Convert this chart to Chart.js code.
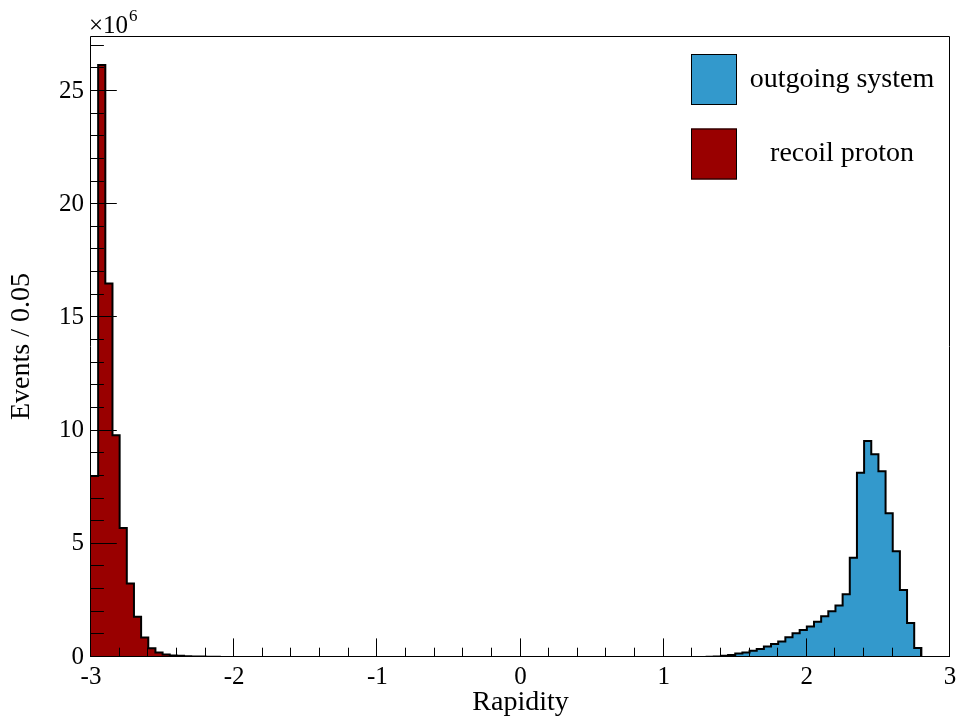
<!DOCTYPE html>
<html>
<head>
<meta charset="utf-8">
<script src="https://cdn.jsdelivr.net/npm/chart.js@4.4.1/dist/chart.umd.min.js"></script>
<style>
  html, body { margin: 0; padding: 0; background: #fff; }
</style>
</head>
<body>
<canvas id="graficoRapidez" width="960" height="718"></canvas>
<script>
// Histograma: 120 bins de 0.05 entre -3 y 3 (valores en unidades de 10^6)
const rapidityMin = -3;
const rapidityMax = 3;
const binWidth = 0.05;

const xTicks = [-3, -2, -1, 0, 1, 2, 3];
const yTicks = [0, 5, 10, 15, 20, 25];

const recoilProton = [
  8.0, 26.15, 16.5, 9.8, 5.7, 3.25, 1.78, 0.86, 0.39, 0.2, 0.11, 0.07, 0.05, 0.035, 0.025, 0.018, 0.012, 0.008, 0.005, 0.003,
  0.002, 0.001, 0, 0, 0, 0, 0, 0, 0, 0, 0, 0, 0, 0, 0, 0, 0, 0, 0, 0,
  0, 0, 0, 0, 0, 0, 0, 0, 0, 0, 0, 0, 0, 0, 0, 0, 0, 0, 0, 0,
  0, 0, 0, 0, 0, 0, 0, 0, 0, 0, 0, 0, 0, 0, 0, 0, 0, 0, 0, 0,
  0, 0, 0, 0, 0, 0, 0, 0, 0, 0, 0, 0, 0, 0, 0, 0, 0, 0, 0, 0,
  0, 0, 0, 0, 0, 0, 0, 0, 0, 0, 0, 0, 0, 0, 0, 0, 0, 0, 0, 0
];

const outgoingSystem = [
  0, 0, 0, 0, 0, 0, 0, 0, 0, 0, 0, 0, 0, 0, 0, 0, 0, 0, 0, 0,
  0, 0, 0, 0, 0, 0, 0, 0, 0, 0, 0, 0, 0, 0, 0, 0, 0, 0, 0, 0,
  0, 0, 0, 0, 0, 0, 0, 0, 0, 0, 0, 0, 0, 0, 0, 0, 0, 0, 0, 0,
  0, 0, 0, 0, 0, 0, 0, 0, 0, 0, 0, 0, 0, 0, 0, 0, 0, 0, 0, 0,
  0, 0, 0, 0, 0, 0.005, 0.01, 0.02, 0.05, 0.09, 0.15, 0.20, 0.28, 0.35, 0.46, 0.57, 0.69, 0.87, 1.05, 1.19,
  1.35, 1.56, 1.80, 2.02, 2.27, 2.77, 4.38, 8.14, 9.54, 8.96, 8.21, 6.35, 4.67, 2.96, 1.50, 0.40, 0, 0, 0, 0
];

const serif = "'Liberation Serif', 'DejaVu Serif', serif";

// Convierte los contenidos de los bins en puntos escalonados (borde izquierdo de cada bin)
function toSteps(values) {
  const pts = values.map((v, i) => ({ x: rapidityMin + i * binWidth, y: v }));
  pts.push({ x: rapidityMax, y: 0 });
  return pts;
}

// Marco, marcas internas, factor x10^6 y leyenda al estilo ROOT
const estiloRoot = {
  id: "estiloRoot",
  afterDatasetsDraw(chart) {
    const { ctx, chartArea: a, scales: { x, y } } = chart;
    ctx.save();
    ctx.strokeStyle = "#000";
    ctx.lineWidth = 1;

    ctx.beginPath();
    ctx.rect(a.left - 0.5, a.top + 0.5, a.right - a.left, a.bottom - a.top - 1);
    ctx.stroke();

    // marcas del eje x (mayores cada 1, menores cada 0.2)
    ctx.beginPath();
    for (let k = 0; k <= 30; k++) {
      const px = Math.round(x.getPixelForValue(rapidityMin + k * 0.2)) - 0.5;
      const len = k % 5 === 0 ? 18.6 : 9.3;
      ctx.moveTo(px, a.bottom);
      ctx.lineTo(px, a.bottom - len);
    }
    // marcas del eje y (mayores cada 5, menores cada 1)
    for (let k = 0; k <= 27; k++) {
      const py = Math.round(y.getPixelForValue(k)) - 0.5;
      const len = k % 5 === 0 ? 25.8 : 12.9;
      ctx.moveTo(a.left, py);
      ctx.lineTo(a.left + len, py);
    }
    ctx.stroke();

    // factor de escala
    ctx.fillStyle = "#000";
    ctx.textAlign = "left";
    ctx.textBaseline = "alphabetic";
    ctx.font = "25px " + serif;
    ctx.fillText("\u00d710", a.left - 2, 33);
    const w = ctx.measureText("\u00d710").width;
    ctx.font = "17px " + serif;
    ctx.fillText("6", a.left - 1 + w, 21);

    // leyenda
    const orden = [0, 1];
    orden.forEach((idx, j) => {
      const ds = chart.data.datasets[idx];
      const top = 54 + j * 74.5;
      ctx.fillStyle = ds.backgroundColor;
      ctx.fillRect(691, top, 46, 51);
      ctx.strokeRect(691.5, top + 0.5, 45, 50);
      ctx.fillStyle = "#000";
      ctx.font = "28px " + serif;
      ctx.textAlign = "center";
      ctx.textBaseline = "middle";
      ctx.fillText(ds.label, 842, top + 25.5);
    });
    ctx.restore();
  }
};

function renderGrafico() {
  const ctx = document.getElementById("graficoRapidez");

  new Chart(ctx, {
    type: "line",
    data: {
      datasets: [
        {
          label: "outgoing system",
          data: toSteps(outgoingSystem),
          stepped: "before",
          fill: "origin",
          backgroundColor: "#3399cc",
          borderColor: "#000",
          borderWidth: 2,
          pointRadius: 0
        },
        {
          label: "recoil proton",
          data: toSteps(recoilProton),
          stepped: "before",
          fill: "origin",
          backgroundColor: "#990000",
          borderColor: "#000",
          borderWidth: 2,
          pointRadius: 0
        }
      ]
    },
    options: {
      responsive: false,
      animation: false,
      layout: { padding: { top: 36, right: 10, left: 0, bottom: 0 } },
      plugins: {
        legend: { display: false },
        tooltip: { enabled: false }
      },
      scales: {
        x: {
          type: "linear",
          min: rapidityMin,
          max: rapidityMax,
          afterBuildTicks: s => { s.ticks = xTicks.map(v => ({ value: v })); },
          afterFit: s => { s.height = 61; s.paddingLeft = 0; s.paddingRight = 0; },
          grid: { display: false, drawTicks: false },
          border: { display: false },
          ticks: {
            color: "#000",
            font: { family: serif, size: 25 },
            padding: 5,
            maxRotation: 0,
            callback: v => String(v)
          },
          title: {
            display: true,
            text: "Rapidity",
            color: "#000",
            font: { family: serif, size: 28 },
            padding: { top: 0, bottom: -1 }
          }
        },
        y: {
          type: "linear",
          min: 0,
          max: 27.43,
          afterBuildTicks: s => { s.ticks = yTicks.map(v => ({ value: v })); },
          afterFit: s => { s.width = 91; s.paddingTop = 0; s.paddingBottom = 0; },
          grid: { display: false, drawTicks: false },
          border: { display: false },
          ticks: {
            color: "#000",
            font: { family: serif, size: 25 },
            padding: 7,
            callback: v => String(v)
          },
          title: {
            display: true,
            text: "Events / 0.05",
            color: "#000",
            font: { family: serif, size: 28 },
            padding: { top: 5, bottom: 0 }
          }
        }
      }
    },
    plugins: [estiloRoot]
  });
}

document.addEventListener("DOMContentLoaded", renderGrafico);
</script>
</body>
</html>
